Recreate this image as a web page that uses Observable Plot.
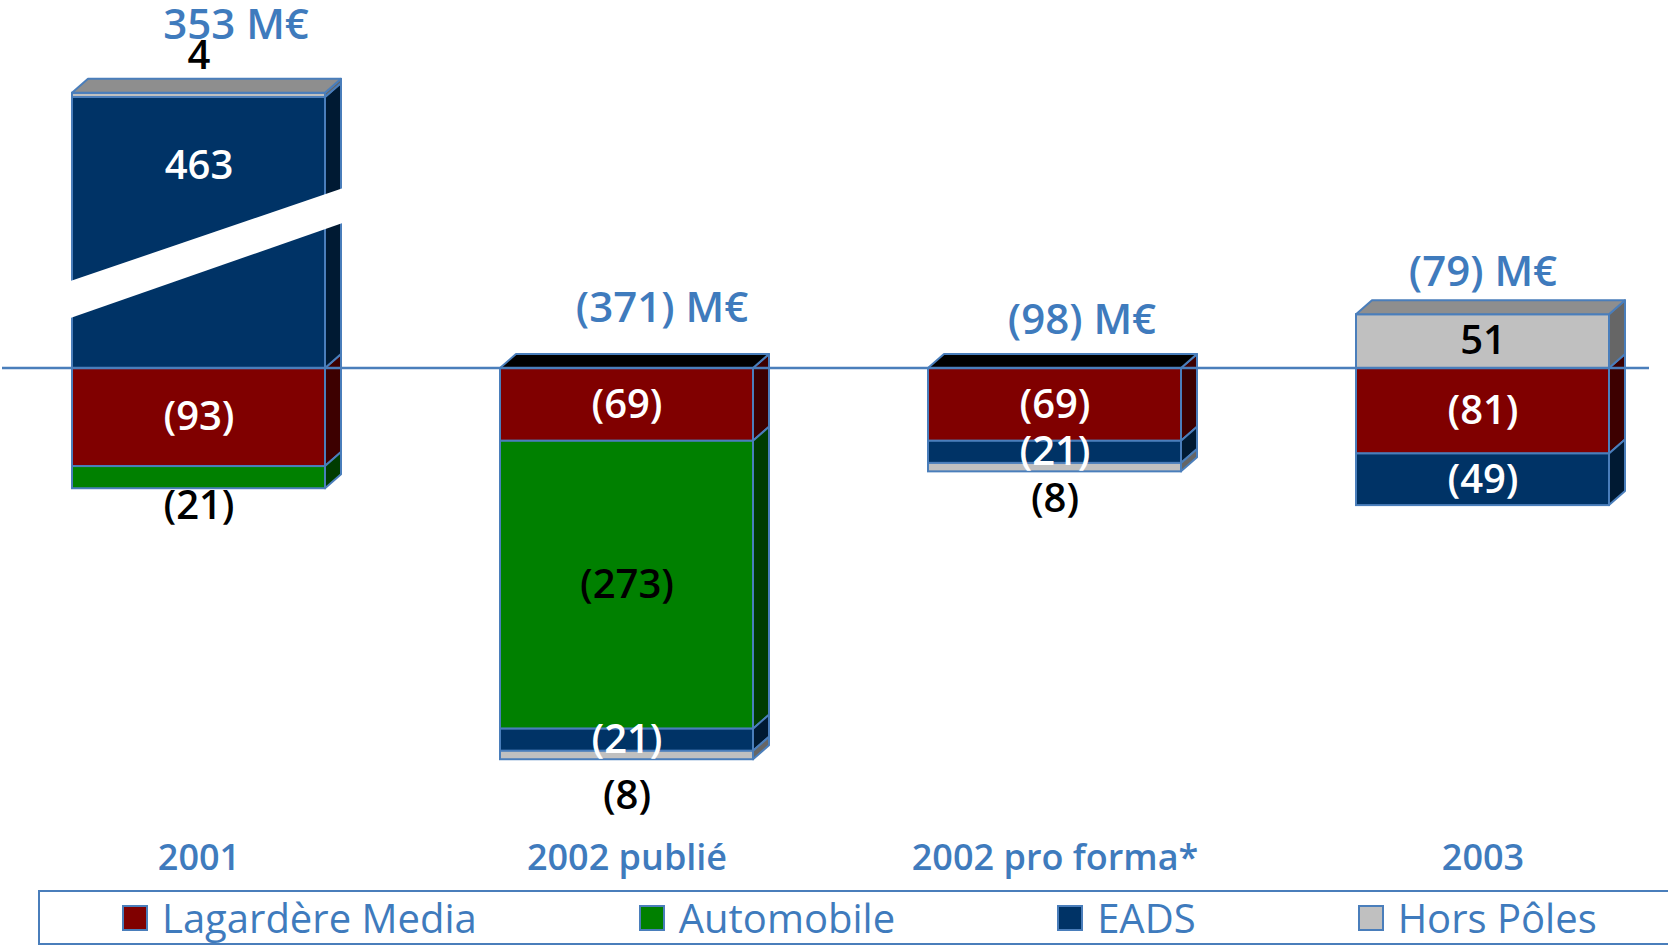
<!DOCTYPE html>
<html>
<head>
<meta charset="utf-8">
<script src="https://cdn.jsdelivr.net/npm/d3@7"></script>
<script src="https://cdn.jsdelivr.net/npm/@observablehq/plot@0.6"></script>
<style>
  html, body { margin: 0; padding: 0; background: #fff; overflow: hidden; width: 1668px; height: 947px; }
  #chart svg { display: block; }
  #legend {
    position: absolute; left: 38px; top: 890px; width: 1700px; height: 51px;
    border: 2px solid #4a7ebb; box-sizing: content-box;
    display: flex; align-items: center; padding-left: 82px; gap: 162px;
    font-family: "Open Sans", sans-serif; font-size: 40px; font-weight: 500; color: #3f7bbd;
  }
  #legend .item { display: flex; align-items: center; gap: 14px; white-space: nowrap; }
  #legend .sw { width: 22px; height: 22px; border: 2px solid #4a7ebb; }
</style>
</head>
<body>
<div id="chart"></div>
<div id="legend"></div>
<script>
// ---------- data ----------
const categories = ["2001", "2002 publié", "2002 pro forma*", "2003"];
const series = ["Lagardère Media", "Automobile", "EADS", "Hors Pôles"];
const lagardereMedia = [-93, -69, -69, -81];
const automobile     = [-21, -273, 0, 0];
const eads           = [463, -21, -21, -49];
const horsPoles      = [4, -8, -8, 51];
const unit = "M€";

// ---------- style ----------
const colors     = ["#800000", "#008000", "#003366", "#c0c0c0"];
const sideColors = ["#3d0000", "#003c00", "#001a33", "#666666"];
const topColors  = ["#400000", "#004000", "#00204a", "#8e8e8e"];
const labelColors = ["#ffffff", "#000000", "#ffffff", "#000000"];
const STROKE = "#4a7ebb";
const BLUE = "#3f7bbd";
const FONT = "'Open Sans', sans-serif";
const DX = 16, DY = -14;               // 3D depth in pixels
// axis break on the 2001 EADS bar (display only)
const BROKEN = {category: "2001", series: "EADS", shownAs: 257};
const BREAK_BAND = {lowLeft: 47, lowRight: 138, highLeft: 82, highRight: 171};
const totalNudge = [[37, -68], [35, -60], [27, -48], [0, -42]];
const belowNudge = {"2001": 17, "2002 publié": 36, "2002 pro forma*": 27, "2003": 25};

const W = 1668, H = 891, MT = 0, MB = 59, ML = 70, MR = 58;
const yDomain = [-440, 349];
const k = (H - MT - MB) / (yDomain[1] - yDomain[0]);

// ---------- derived table ----------
const seriesValues = [lagardereMedia, automobile, eads, horsPoles];
const rows = [];
const tops = [];
categories.forEach((c, i) => {
  let pos = 0, neg = 0, lastPos = null, lastNeg = null;
  series.forEach((s, j) => {
    const v = seriesValues[j][i];
    if (!v) return;
    const broken = (c === BROKEN.category && s === BROKEN.series);
    const d = broken ? BROKEN.shownAs : v;
    let y1, y2;
    if (d > 0) { y1 = pos; y2 = pos + d; pos = y2; }
    else { y1 = neg; y2 = neg + d; neg = y2; }
    const r = {category: c, series: s, s: j, value: v, y1, y2, mid: (y1 + y2) / 2, broken};
    if (broken) r.mid = (y2 + (BREAK_BAND.highLeft + BREAK_BAND.highRight) / 2) / 2;
    rows.push(r);
    if (d > 0) lastPos = r; else lastNeg = r;
  });
  [lastPos, lastNeg].forEach(r => { if (r) r.outer = true; });
  tops.push({category: c, i, top: pos, total: d3.sum(seriesValues, a => a[i]), topSeries: lastPos ? lastPos.s : -1});
});
const fmt = v => v < 0 ? `(${Math.abs(v)})` : `${v}`;
rows.forEach(r => {
  const px = Math.abs(r.y2 - r.y1) * k;
  r.place = (px < 30 && r.outer) ? (r.y2 > 0 ? "above" : "below") : "inside";
  r.label = fmt(r.value);
  r.labelColor = r.place === "inside" ? labelColors[r.s] : "#000000";
});

const textBase = {fontSize: 40, fontWeight: 600, fontFamily: FONT};
const below = rows.filter(r => r.place === "below");
const plot = Plot.plot({
  width: W, height: H,
  marginTop: MT, marginBottom: MB, marginLeft: ML, marginRight: MR,
  style: {fontFamily: FONT, background: "#fff"},
  x: {type: "band", domain: categories, paddingInner: 0.41, paddingOuter: 0, axis: null},
  y: {domain: yDomain, axis: null},
  color: {type: "identity"},
  marks: [
    Plot.barY(rows, {x: "category", y1: "y1", y2: "y2", fill: d => colors[d.s], stroke: STROKE, strokeWidth: 2}),
    Plot.text(rows.filter(r => r.place === "inside"), {x: "category", y: "mid", text: "label", fill: "labelColor", ...textBase}),
    ...below.map(r => Plot.text([r], {x: "category", y: "y2", text: "label", fill: "labelColor", dy: belowNudge[r.category], ...textBase})),
    Plot.text(rows.filter(r => r.place === "above"), {x: "category", y: "y2", text: "label", fill: "labelColor", dy: -37, ...textBase}),
    ...tops.map((t, i) => Plot.text([t], {x: "category", y: "top", text: d => `${fmt(d.total)} ${unit}`,
      fill: BLUE, fontSize: 42, fontWeight: 600, fontFamily: FONT, dx: totalNudge[i][0], dy: totalNudge[i][1]})),
    Plot.text(categories, {x: d => d, frameAnchor: "bottom", dy: 37, text: d => d, fill: BLUE, fontSize: 36, fontWeight: 600, fontFamily: FONT})
  ]
});
document.getElementById("chart").appendChild(plot);

// ---------- 3D faces, baseline and axis break, using Plot's scales ----------
const sx = plot.scale("x"), sy = plot.scale("y");
const bandScale = d3.scaleBand(sx.domain, sx.range).paddingInner(sx.paddingInner ?? 0.41).paddingOuter(sx.paddingOuter ?? 0).align(sx.align ?? 0.5).round(!!sx.round);
const X = sx.apply ? v => sx.apply(v) : v => bandScale(v);
const BW = sx.bandwidth ?? bandScale.bandwidth();
const linScale = d3.scaleLinear(sy.domain, sy.range);
const Y = sy.apply ? v => sy.apply(v) : v => linScale(v);

const svg = d3.select(plot);
const faces = svg.append("g").attr("stroke", STROKE).attr("stroke-width", 2).attr("stroke-linejoin", "round");
rows.forEach(r => {
  const xr = X(r.category) + BW;
  const ya = Y(Math.max(r.y1, r.y2)), yb = Y(Math.min(r.y1, r.y2));
  faces.append("polygon")
    .attr("points", [[xr, ya], [xr + DX, ya + DY], [xr + DX, yb + DY], [xr, yb]].map(p => p.join(",")).join(" "))
    .attr("fill", sideColors[r.s]);
});
tops.forEach(t => {
  const xl = X(t.category), xr = xl + BW, yt = Y(t.top);
  faces.append("polygon")
    .attr("points", [[xl, yt], [xl + DX, yt + DY], [xr + DX, yt + DY], [xr, yt]].map(p => p.join(",")).join(" "))
    .attr("fill", t.top > 0 ? topColors[t.topSeries] : "#000000");
});
svg.append("line")
  .attr("x1", 2).attr("x2", 1649).attr("y1", Y(0)).attr("y2", Y(0))
  .attr("stroke", STROKE).attr("stroke-width", 2.5);
{
  const xl = X(BROKEN.category) - 3, xr = X(BROKEN.category) + BW + DX + 3;
  svg.append("polygon")
    .attr("points", [[xl, Y(BREAK_BAND.lowLeft)], [xr, Y(BREAK_BAND.lowRight)], [xr, Y(BREAK_BAND.highRight)], [xl, Y(BREAK_BAND.highLeft)]].map(p => p.join(",")).join(" "))
    .attr("fill", "#ffffff");
}
svg.selectAll('g[aria-label="text"]').raise();

// ---------- legend ----------
const legend = d3.select("#legend");
series.forEach((s, j) => {
  const it = legend.append("div").attr("class", "item");
  it.append("div").attr("class", "sw").style("background", colors[j]);
  it.append("span").text(s);
});
</script>
</body>
</html>
